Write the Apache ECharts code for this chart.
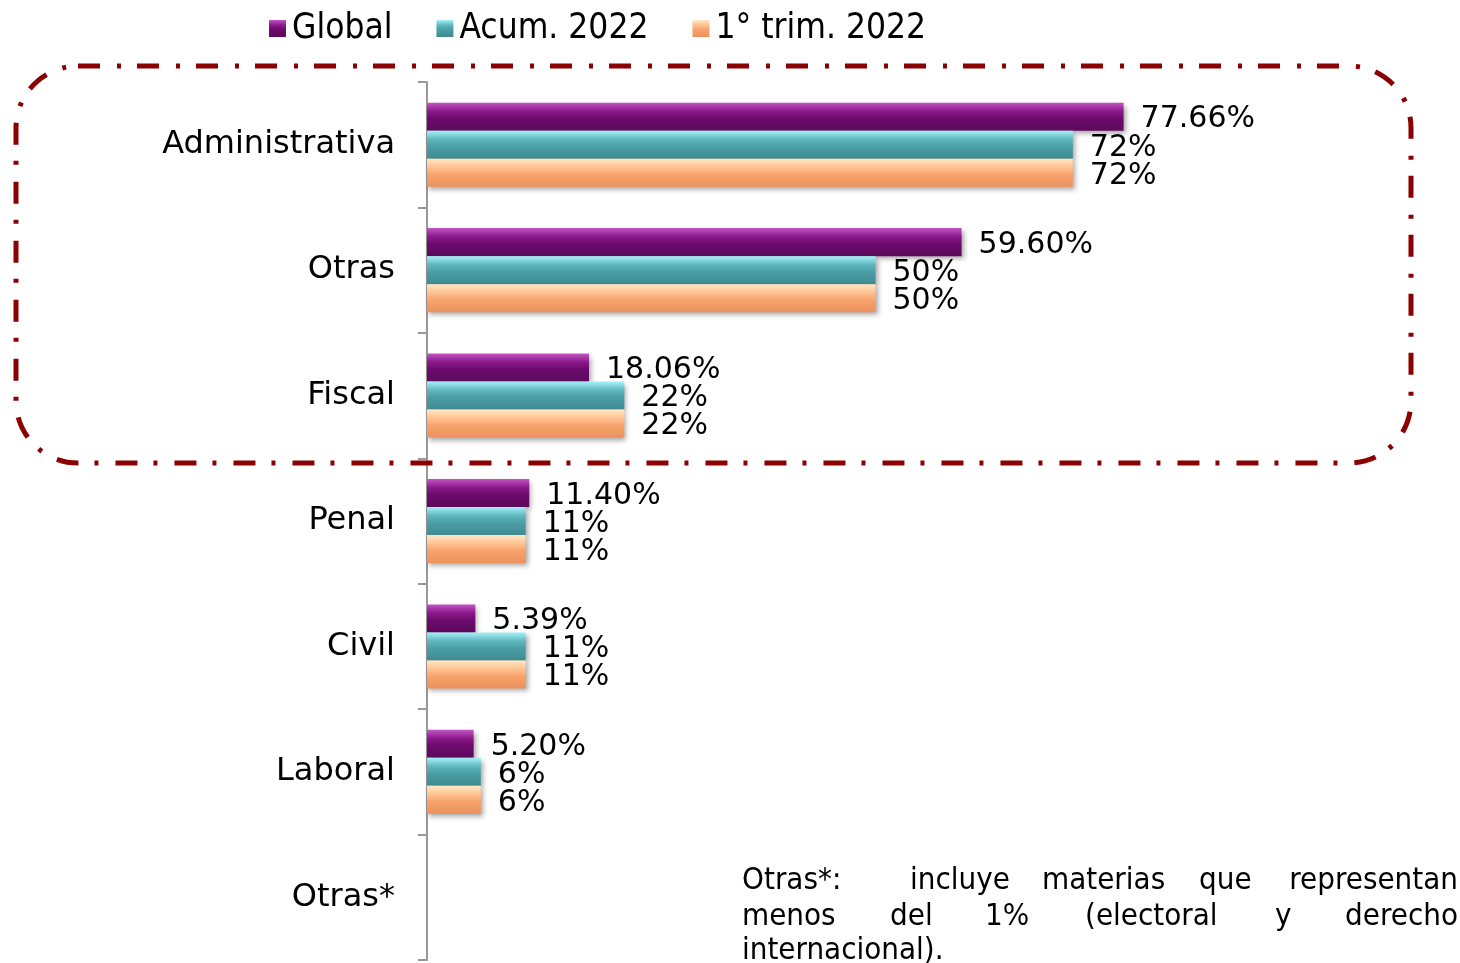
<!DOCTYPE html>
<html>
<head>
    <meta charset="utf-8">
    <title>Materias</title>
    <script src="https://cdn.jsdelivr.net/npm/echarts@6/dist/echarts.min.js"></script>
    <style>
        html, body { margin: 0; padding: 0; background: #fff; }
    </style>
</head>
<body>
    <div id="main" style="width:1460px; height:963px"></div>
    <script type="text/javascript">
        var categories = ['Administrativa', 'Otras', 'Fiscal', 'Penal', 'Civil', 'Laboral', 'Otras*'];
        var seriesNames = ['Global', 'Acum. 2022', '1\u00b0 trim. 2022'];
        var globalValues = [77.66, 59.60, 18.06, 11.40, 5.39, 5.20, null];
        var acumValues = [72, 50, 22, 11, 11, 6, null];
        var trimValues = [72, 50, 22, 11, 11, 6, null];
        var noteLines = [
            ['Otras*:', 'incluye', 'materias', 'que', 'representan'],
            ['menos', 'del', '1%', '(electoral', 'y', 'derecho'],
            ['internacional).']
        ];

        var myChart = echarts.init(document.getElementById('main'));

        function grad(stops) {
            return new echarts.graphic.LinearGradient(0, 0, 0, 1, [
                {offset: 0, color: stops[0]},
                {offset: 0.3, color: stops[1]},
                {offset: 0.55, color: stops[2]},
                {offset: 1, color: stops[3]}
            ]);
        }

        var palettes = [
            ['#c455c4', '#8c1a8c', '#6e0b6e', '#5c095c'],
            ['#a4f2fa', '#62b8c0', '#4b9fa7', '#3f8b92'],
            ['#ffe8c4', '#ffc393', '#f9a46c', '#ea925c']
        ];

        function makeSeries(name, data, idx, decimals) {
            return {
                name: name,
                type: 'bar',
                data: data,
                barGap: '0%',
                barCategoryGap: '33%',
                itemStyle: {
                    color: grad(palettes[idx]),
                    shadowColor: 'rgba(0,0,0,0.35)',
                    shadowBlur: 5,
                    shadowOffsetX: 2,
                    shadowOffsetY: 3
                },
                label: {
                    show: true,
                    position: 'right',
                    distance: 17,
                    offset: [0, 3],
                    color: '#000',
                    fontFamily: 'DejaVu Sans',
                    fontSize: 30,
                    formatter: function (p) {
                        return p.value == null ? '' : p.value.toFixed(decimals) + '%';
                    }
                }
            };
        }

        // footnote, justified by hand: first word left, last word right
        var noteGraphics = [];
        var wordX = [
            [742, 910, 1042, 1199, 1458],
            [742, 890, 985, 1085, 1275, 1458],
            [742]
        ];
        var noteY = [881, 917, 951];
        noteLines.forEach(function (words, li) {
            words.forEach(function (w, wi) {
                var last = li < 2 && wi === words.length - 1;
                noteGraphics.push({
                    type: 'text',
                    x: wordX[li][wi],
                    y: noteY[li],
                    style: {
                        text: w,
                        fill: '#000',
                        font: '31px "DejaVu Sans Condensed"',
                        align: last ? 'right' : 'left',
                        verticalAlign: 'middle'
                    }
                });
            });
        });

        var option = {
            animation: false,
            legend: {
                top: 6,
                left: 264,
                itemWidth: 17,
                itemHeight: 17,
                itemGap: 44,
                icon: 'rect',
                textStyle: {
                    fontFamily: 'DejaVu Sans Condensed',
                    fontSize: 35,
                    color: '#000',
                    padding: [0, 0, 0, 1]
                },
                data: seriesNames
            },
            grid: {
                left: 427,
                top: 82,
                width: 897,
                height: 878
            },
            xAxis: {
                type: 'value',
                min: 0,
                max: 100,
                show: false
            },
            yAxis: {
                type: 'category',
                inverse: true,
                data: categories,
                axisLine: {show: true, lineStyle: {color: '#999', width: 2}},
                axisTick: {show: true, alignWithLabel: false, length: 9, lineStyle: {color: '#999', width: 2}},
                axisLabel: {
                    color: '#000',
                    fontFamily: 'DejaVu Sans',
                    fontSize: 32,
                    margin: 32,
                    padding: [5, 0, 0, 0]
                }
            },
            graphic: [{
                type: 'rect',
                shape: {x: 16, y: 66, width: 1395, height: 397, r: 62},
                style: {
                    fill: 'none',
                    stroke: '#8b0000',
                    lineWidth: 5,
                    lineDash: [22, 17, 4, 16]
                },
                z: 100
            }].concat(noteGraphics),
            series: [
                makeSeries(seriesNames[0], globalValues, 0, 2),
                makeSeries(seriesNames[1], acumValues, 1, 0),
                makeSeries(seriesNames[2], trimValues, 2, 0)
            ]
        };

        myChart.setOption(option);
    </script>
</body>
</html>
